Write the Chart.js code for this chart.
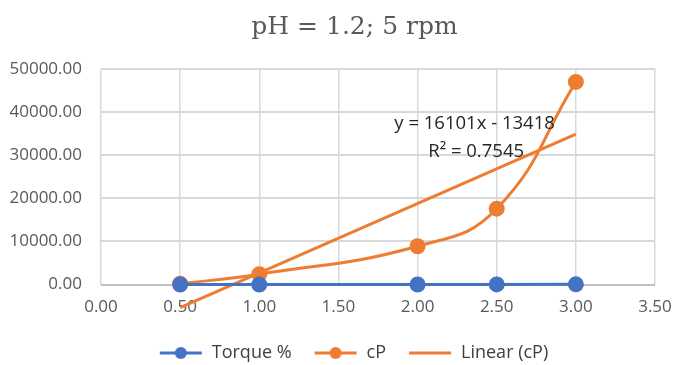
<!DOCTYPE html>
<html>
<head>
<meta charset="utf-8">
<script src="https://cdn.jsdelivr.net/npm/chart.js@4.4.1/dist/chart.umd.min.js"></script>
<style>
  html, body { margin: 0; padding: 0; background: #fff; }
  #wrap { width: 675px; height: 365px; }
</style>
</head>
<body>
<div id="wrap"><canvas id="myChart"></canvas></div>
<script>
// data
const speeds = [0.5, 1.0, 2.0, 2.5, 3.0];
const torque = [10, 15, 25, 40, 60];
const cp = [200, 2400, 8900, 17600, 47000];
// trendline end points (y = 16101x - 13418)
const trendX = [0.5, 3.0];
const trendY = [-5368, 34885];
const trendText = ['y = 16101x - 13418', 'R² = 0.7545'];

const xTicks = [0, 0.5, 1, 1.5, 2, 2.5, 3, 3.5];
const yTicks = [0, 10000, 20000, 30000, 40000, 50000];

const blue = '#4472c4';
const orange = '#ed7d31';

function legendIcon(color, dot) {
    const c = document.createElement('canvas');
    c.width = 44; c.height = 14;
    const g = c.getContext('2d');
    g.strokeStyle = color;
    g.lineWidth = 3;
    g.beginPath();
    g.moveTo(1, 7); g.lineTo(43, 7);
    g.stroke();
    if (dot) {
        g.fillStyle = color;
        g.beginPath();
        g.arc(22, 7, 6, 0, Math.PI * 2);
        g.fill();
    }
    return c;
}

const toPts = (xs, ys) => xs.map((x, i) => ({ x: x, y: ys[i] }));

const trendLabel = {
    id: 'trendLabel',
    afterDatasetsDraw(chart) {
        const ctx = chart.ctx;
        const xs = chart.scales.x, ys = chart.scales.y;
        ctx.save();
        ctx.font = '18.5px "Open Sans", sans-serif';
        ctx.fillStyle = '#262626';
        ctx.textAlign = 'center';
        ctx.textBaseline = 'middle';
        ctx.fillText(trendText[0], xs.getPixelForValue(2.36), ys.getPixelForValue(37400));
        ctx.fillText(trendText[1], xs.getPixelForValue(2.37), ys.getPixelForValue(30900));
        ctx.restore();
    }
};

// nudge title and legend a bit right, like the original
const boxShift = {
    id: 'boxShift',
    afterLayout(chart) {
        if (chart.legend) {
            chart.legend.left += 16;
            chart.legend.right += 16;
        }
        if (chart.titleBlock) {
            chart.titleBlock.left += 17;
            chart.titleBlock.right += 17;
        }
    }
};

document.addEventListener("DOMContentLoaded", function() {
    const ctx = document.getElementById('myChart').getContext('2d');

    const data = {
        datasets: [{
            label: 'Torque %',
            data: toPts(speeds, torque),
            borderColor: blue,
            backgroundColor: blue,
            borderWidth: 3,
            pointRadius: 6.5,
            showLine: true,
            clip: false,
            order: 1
        }, {
            label: 'cP',
            data: toPts(speeds, cp),
            borderColor: orange,
            backgroundColor: orange,
            borderWidth: 3,
            pointRadius: 6.5,
            showLine: true,
            tension: 0.45,
            order: 2
        }, {
            label: 'Linear (cP)',
            data: toPts(trendX, trendY),
            borderColor: orange,
            backgroundColor: orange,
            borderWidth: 3,
            pointRadius: 0,
            showLine: true,
            clip: false,
            order: 3
        }]
    };

    const icons = [legendIcon(blue, true), legendIcon(orange, true), legendIcon(orange, false)];

    const options = {
        responsive: true,
        maintainAspectRatio: false,
        animation: false,
        layout: { padding: { left: 0, right: 0, top: 0, bottom: -7 } },
        scales: {
            x: {
                type: 'linear',
                min: 0,
                max: 3.5,
                afterBuildTicks: s => { s.ticks = xTicks.map(v => ({ value: v })); },
                afterFit: s => { s.paddingLeft = 0; s.paddingRight = 20; s.height -= 7; },
                grid: { color: '#d9d9d9', lineWidth: 1.5, drawTicks: false },
                border: { display: false },
                ticks: {
                    padding: 12,
                    color: '#595959',
                    font: { size: 17, family: '"Open Sans", sans-serif' },
                    callback: v => v.toFixed(2)
                }
            },
            y: {
                min: 0,
                max: 50000,
                afterBuildTicks: s => { s.ticks = yTicks.map(v => ({ value: v })); },
                afterFit: s => { s.width = 101; },
                grid: {
                    color: ctx => ctx.tick && ctx.tick.value === 0 ? '#bfbfbf' : '#d9d9d9',
                    lineWidth: 2,
                    drawTicks: false
                },
                border: { display: false },
                ticks: {
                    padding: 19,
                    color: '#595959',
                    font: { size: 17, family: '"Open Sans", sans-serif' },
                    callback: v => v.toFixed(2)
                }
            }
        },
        plugins: {
            title: {
                display: true,
                text: 'pH = 1.2; 5 rpm',
                color: '#595959',
                font: { size: 25, family: '"DejaVu Serif", serif', weight: 'normal' },
                padding: { top: 12, bottom: 27 }
            },
            legend: {
                position: 'bottom',
                labels: {
                    usePointStyle: true,
                    pointStyleWidth: 44,
                    padding: 22,
                    color: '#404040',
                    font: { size: 18, family: '"Open Sans", sans-serif' },
                    generateLabels: chart => chart.data.datasets.map((d, i) => ({
                        text: d.label,
                        pointStyle: icons[i],
                        fillStyle: d.borderColor,
                        strokeStyle: d.borderColor,
                        lineWidth: 0,
                        fontColor: '#404040',
                        datasetIndex: i
                    }))
                }
            },
            tooltip: { enabled: false }
        }
    };

    new Chart(ctx, {
        type: 'scatter',
        data: data,
        options: options,
        plugins: [trendLabel, boxShift]
    });
});
</script>
</body>
</html>
